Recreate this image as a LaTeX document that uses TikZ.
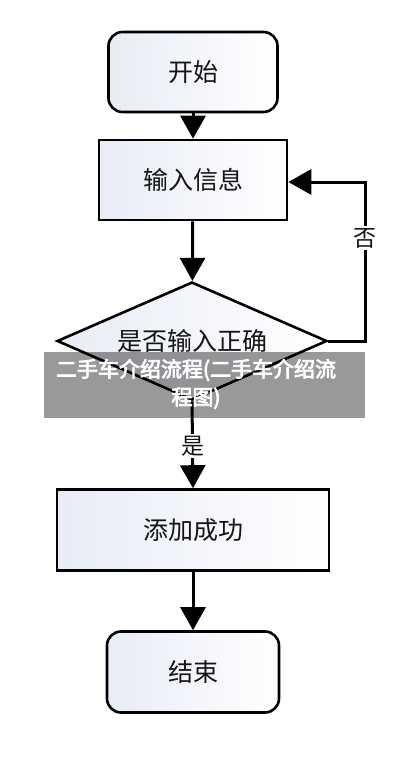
\documentclass[tikz,border=0pt]{standalone}
\usepackage{fontspec}
\setmainfont{Noto Sans CJK SC}
\newfontfamily\bannerfont{Noto Sans CJK SC}[FakeBold=3.5]
\usetikzlibrary{shapes.geometric,arrows.meta}
\definecolor{boxfill}{RGB}{232,236,246}
\definecolor{ink}{RGB}{20,20,20}
\tikzset{
  boxbase/.style={draw=black, line width=2.6pt, left color=boxfill, right color=white, text=ink, font=\fontsize{25}{28}\selectfont, inner sep=0pt},
  term/.style={boxbase, rounded corners=14pt},
  procbox/.style={boxbase},
  decision/.style={boxbase, diamond, aspect=2.29, minimum width=270pt, minimum height=118pt},
  flow/.style={line width=3pt, -{Triangle[width=25pt,length=23pt]}},
  lbl/.style={fill=white, text=ink, font=\fontsize{23}{26}\selectfont, inner sep=2pt},
}
\begin{document}
\begin{tikzpicture}[x=1pt,y=-1pt]
\useasboundingbox (0,0) rectangle (411,770);
\node[term, minimum width=169pt, minimum height=80pt] (start) at (193,72) {开始};
\node[procbox, minimum width=188pt, minimum height=80pt] (input) at (193,180) {输入信息};
\node[decision] (check) at (192,341) {是否输入正确};
\node[procbox, minimum width=272pt, minimum height=81pt] (add) at (193,530) {添加成功};
\node[term, minimum width=172pt, minimum height=81pt] (end) at (193,672) {结束};
\coordinate (cr) at (365,341);
\coordinate (ct) at (365,182);
\draw[flow] (start) -- (input);
\draw[flow] (input) -- (check);
\draw[flow] (check.east) -- (cr) -- (ct) -- (input.east |- ct);
\node[lbl] (no) at (365,238) {否};
\draw[flow] (check.south) -- (add.north);
\node[lbl] (yes) at (193,446) {是};
\draw[flow] (add) -- (end);
\fill[black, opacity=0.4] (44,352) rectangle (365,418);
\node[text=white, font=\bannerfont\fontsize{21}{28}\selectfont, align=center] (banner) at (196,384) {二手车介绍流程(二手车介绍流\\程图)};
\end{tikzpicture}
\end{document}
